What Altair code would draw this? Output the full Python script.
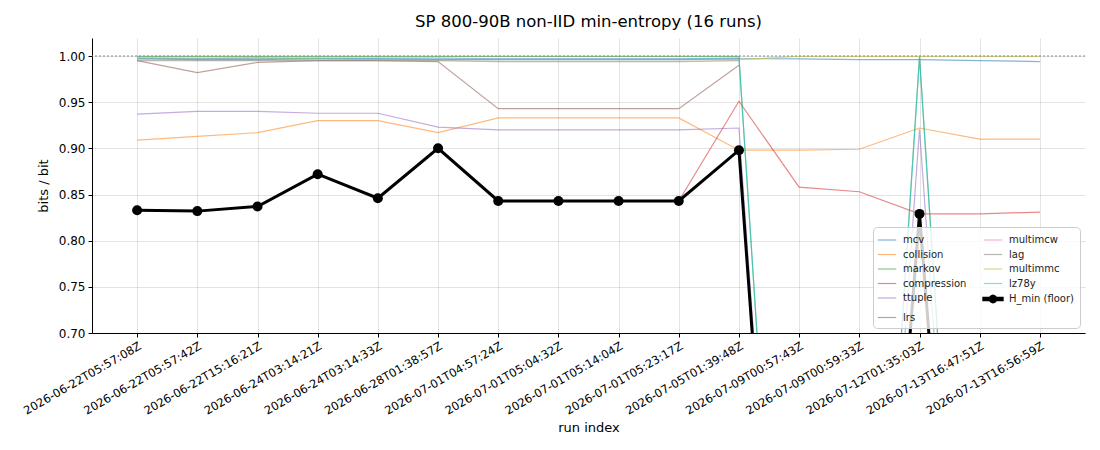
import altair as alt
import pandas as pd

run_labels = [
    "2026-06-22T05:57:08Z", "2026-06-22T05:57:42Z", "2026-06-22T15:16:21Z",
    "2026-06-24T03:14:21Z", "2026-06-24T03:14:33Z", "2026-06-28T01:38:57Z",
    "2026-07-01T04:57:24Z", "2026-07-01T05:04:32Z", "2026-07-01T05:14:04Z",
    "2026-07-01T05:23:17Z", "2026-07-05T01:39:48Z", "2026-07-09T00:57:43Z",
    "2026-07-09T00:59:33Z", "2026-07-12T01:35:03Z", "2026-07-13T16:47:51Z",
    "2026-07-13T16:56:59Z",
]
runs = list(range(16))

mcv = [0.997, 0.996, 0.996, 0.997, 0.997, 0.996, 0.996, 0.996, 0.996, 0.996, 0.997,
       0.997, 0.996, 0.996, 0.995, 0.994]
collision = [0.909, 0.913, 0.917, 0.930, 0.930, 0.917, 0.933, 0.933, 0.933, 0.933, 0.898,
             0.898, 0.899, 0.922, 0.910, 0.910]
markov = [0.9995, 0.9995, 0.9995, 0.9995, 0.9995, 0.9995, 0.9995, 0.9995, 0.9995, 0.9995, 0.9995,
          0.0, 0.0, 0.9995, 0.0, 0.0]
compression = [0.833, 0.832, 0.837, 0.872, 0.846, 0.900, 0.843, 0.843, 0.843, 0.843, 0.951,
               0.858, 0.853, 0.829, 0.829, 0.831]
ttuple = [0.937, 0.940, 0.940, 0.938, 0.938, 0.923, 0.920, 0.920, 0.920, 0.920, 0.922,
          0.0, 0.0, 0.921, 0.0, 0.0]
lrs = [0.995, 0.982, 0.993, 0.995, 0.995, 0.994, 0.943, 0.943, 0.943, 0.943, 0.990]
multimcw = [0.998, 0.997, 0.998, 0.998, 0.998, 0.998, 0.997, 0.997, 0.997, 0.997, 0.997]
lag = [0.995, 0.995, 0.995, 0.995, 0.995, 0.995, 0.994, 0.994, 0.994, 0.994, 0.995]
multimmc = [0.998, 0.998, 0.998, 0.997, 0.996, 0.996, 0.996, 0.996, 0.996, 0.996, 0.996,
            0.9995, 0.9995, 0.9995, 0.9995, 0.9995]
lz78y = [0.997, 0.997, 0.997, 0.997, 0.997, 0.997, 0.997, 0.997, 0.997, 0.997, 0.998,
         0.0, 0.0, 0.998, 0.0, 0.0]
h_min = [0.833, 0.832, 0.837, 0.872, 0.846, 0.900, 0.843, 0.843, 0.843, 0.843, 0.898,
         0.0, 0.0, 0.829, 0.0, 0.0]
ref_level = [1.0]

series_names = ["mcv", "collision", "markov", "compression", "ttuple", "lrs",
                "multimcw", "lag", "multimmc", "lz78y"]
series_values = [mcv, collision, markov, compression, ttuple, lrs,
                 multimcw, lag, multimmc, lz78y]
series_colors = ["#1f77b4", "#ff7f0e", "#2ca02c", "#d62728", "#9467bd", "#8c564b",
                 "#e377c2", "#7f7f7f", "#bcbd22", "#17becf"]
HMIN = "H_min (floor)"

rows = []
for name, vals in zip(series_names, series_values):
    for i, v in enumerate(vals):
        rows.append({"run": runs[i], "series": name, "value": v})
est_df = pd.DataFrame(rows)
hmin_df = pd.DataFrame({"run": runs, "series": HMIN, "value": h_min})
ref_df = pd.DataFrame({"value": ref_level})

legend_order = series_names + [HMIN]
legend_colors = series_colors + ["#000000"]
legend_widths = [1.2] * len(series_names) + [3]
legend_opac = [0.55] * len(series_names) + [1.0]

label_expr = "[" + ",".join("'" + l + "'" for l in run_labels) + "][datum.value]"

FONT = "DejaVu Sans"

x_enc = alt.X("run:Q",
              scale=alt.Scale(domain=[-0.75, 15.75], nice=False, zero=False),
              axis=alt.Axis(values=runs, labelExpr=label_expr, labelAngle=-30,
                            labelAlign="right", labelBaseline="top", labelOverlap=False,
                            labelBound=False, title="run index", grid=True))
y_enc = alt.Y("value:Q",
              scale=alt.Scale(domain=[0.70, 1.0195], nice=False, zero=False),
              axis=alt.Axis(values=[0.70, 0.75, 0.80, 0.85, 0.90, 0.95, 1.00],
                            format=".2f", title="bits / bit", grid=True))

# legend glyphs: thin line for estimators; filled thick bar + round dot for H_min
line_path = "M-1.3,0L1.3,0"
marker_path = ("M-1.3,-0.12L1.3,-0.12L1.3,0.12L-1.3,0.12Z"
               "M0.4,0L0.346,0.2L0.2,0.346L0,0.4L-0.2,0.346L-0.346,0.2L-0.4,0"
               "L-0.346,-0.2L-0.2,-0.346L0,-0.4L0.2,-0.346L0.346,-0.2Z")
legend_shapes = [line_path] * len(series_names) + [marker_path]

legend = alt.Legend(
    title=None, orient="bottom-right", columns=2, offset=5,
    fillColor="rgba(255,255,255,0.8)", strokeColor="#cccccc",
    cornerRadius=4, padding=5, columnPadding=10, rowPadding=1.5,
    labelFont=FONT, labelFontSize=10, labelColor="#222222",
    symbolType=line_path, symbolSize=200, labelOffset=7, symbolStrokeWidth=1.4)

color_enc = alt.Color("series:N", scale=alt.Scale(domain=legend_order, range=legend_colors),
                      legend=legend)
width_enc = alt.StrokeWidth("series:N", scale=alt.Scale(type="ordinal", domain=legend_order,
                                                        range=legend_widths), legend=None)
opac_enc = alt.Opacity("series:N", scale=alt.Scale(type="ordinal", domain=legend_order,
                                                   range=legend_opac), legend=legend)
shape_enc = alt.Shape("series:N", scale=alt.Scale(domain=legend_order, range=legend_shapes),
                      legend=legend)

est_lines = alt.Chart(est_df).mark_line(clip=True).encode(
    x=x_enc, y=y_enc, color=color_enc, strokeWidth=width_enc, opacity=opac_enc,
    detail="series:N", order="run:Q")

hmin_line = alt.Chart(hmin_df).mark_line(clip=True).encode(
    x=x_enc, y=y_enc, color=color_enc, strokeWidth=width_enc, opacity=opac_enc,
    order="run:Q")

hmin_pts = alt.Chart(hmin_df).mark_circle(clip=True, opacity=1, color="#000000").encode(
    x=x_enc, y=y_enc, size=alt.value(100))

# invisible layer whose only job is to give the legend its H_min marker glyph
legend_glyph = alt.Chart(hmin_df).mark_point(filled=False, clip=True, fill="#000000",
                                             opacity=0).encode(
    x=x_enc, y=y_enc, shape=shape_enc, color=color_enc, size=alt.value(1))

ref_rule = alt.Chart(ref_df).mark_rule(color="#888888", strokeDash=[2, 2], strokeWidth=1).encode(
    y=alt.Y("value:Q"))

chart = alt.layer(est_lines, hmin_line, hmin_pts, legend_glyph, ref_rule).properties(
    width=993, height=295,
    title=alt.Title("SP 800-90B non-IID min-entropy (16 runs)", font=FONT, fontSize=16.5,
                    fontWeight="normal", color="#000000", offset=8),
    padding={"left": 13, "top": 5, "right": 5, "bottom": 0},
).configure_view(stroke=None).configure_axis(
    labelFont=FONT, titleFont=FONT, labelColor="#000000", titleColor="#000000",
    domainColor="#000000", tickColor="#000000", gridColor="#b0b0b0", gridOpacity=0.35,
    titleFontWeight="normal", titleFontSize=13, tickSize=4,
).configure_axisX(labelFontSize=11.5, labelPadding=3, titlePadding=5
).configure_axisY(labelFontSize=12, labelPadding=3, titlePadding=8)

chart.save("out.html", embed_options={"renderer": "svg", "actions": False})
